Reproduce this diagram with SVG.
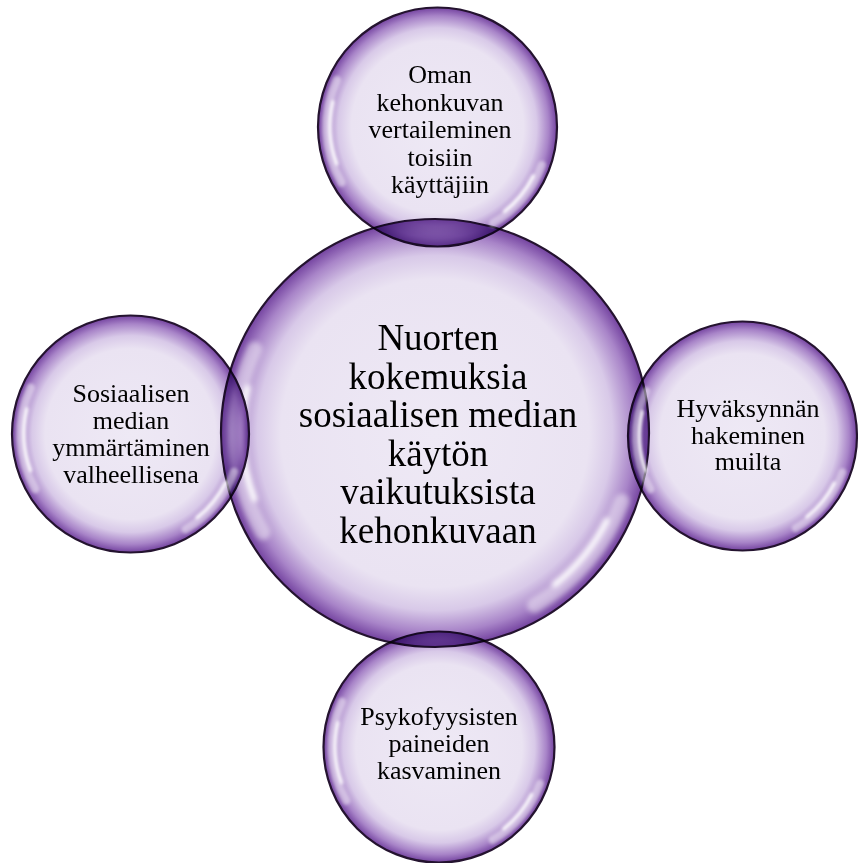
<svg xmlns="http://www.w3.org/2000/svg" xmlns:xlink="http://www.w3.org/1999/xlink" width="858" height="863" viewBox="0 0 858 863">
<style>
.ring{fill:url(#bub);stroke:#24132f;stroke-width:2.2;mix-blend-mode:multiply}
.t{font-family:"Liberation Serif","Times New Roman",serif;fill:#000;text-anchor:middle}
.s{font-size:26px}
.c{font-size:37px}
.gl{fill:none;stroke:#fff;stroke-linecap:round}
.g1{stroke-width:7;opacity:.45}
.g2{stroke-width:3;opacity:.9}
</style>
<defs>
<radialGradient id="bub" cx="50%" cy="50%" r="50%">
<stop offset="0" stop-color="#EEE9F5"/>
<stop offset="0.72" stop-color="#EAE3F2"/>
<stop offset="0.83" stop-color="#D8C9E8"/>
<stop offset="0.93" stop-color="#A884C8"/>
<stop offset="1" stop-color="#7443A0"/>
</radialGradient>
<filter id="soft" x="-20%" y="-20%" width="140%" height="140%"><feGaussianBlur stdDeviation="1.3"/></filter>
<g id="gloss" filter="url(#soft)">
<path class="gl g1" d="M -80.5 46.5 A 93 93 0 0 1 -84.3 -39.3"/>
<path class="gl g2" d="M -84.3 30.7 A 90 90 0 0 1 -87.5 -21"/>
<path class="gl g1" d="M 87.4 31.8 A 93 93 0 0 1 46.5 80.5"/>
<path class="gl g2" d="M 80 41 A 90 90 0 0 1 56 70.5"/>
</g>
</defs>
<rect width="858" height="863" fill="#fff"/>
<g id="connectors"/>
<g id="node-center">
<circle class="ring" cx="435" cy="433" r="214"/>
<use xlink:href="#gloss" transform="translate(435 433) scale(2.14)"/>
<text class="t c"><tspan x="438" y="350">Nuorten</tspan><tspan x="438" y="388.6">kokemuksia</tspan><tspan x="438" y="427.2">sosiaalisen median</tspan><tspan x="438" y="465.8">käytön</tspan><tspan x="438" y="504.4">vaikutuksista</tspan><tspan x="438" y="543">kehonkuvaan</tspan></text>
</g>
<g id="node-top">
<circle class="ring" cx="437.5" cy="127" r="119.5"/>
<use xlink:href="#gloss" transform="translate(437.5 127) scale(1.195)"/>
<text class="t s"><tspan x="440" y="83">Oman</tspan><tspan x="440" y="110.5">kehonkuvan</tspan><tspan x="440" y="138">vertaileminen</tspan><tspan x="440" y="165.5">toisiin</tspan><tspan x="440" y="193">käyttäjiin</tspan></text>
</g>
<g id="node-left">
<circle class="ring" cx="130.5" cy="434" r="118.5"/>
<use xlink:href="#gloss" transform="translate(130.5 434) scale(1.185)"/>
<text class="t s"><tspan x="131" y="402">Sosiaalisen</tspan><tspan x="131" y="429">median</tspan><tspan x="131" y="456">ymmärtäminen</tspan><tspan x="131" y="483">valheellisena</tspan></text>
</g>
<g id="node-right">
<circle class="ring" cx="742.5" cy="436" r="114.5"/>
<use xlink:href="#gloss" transform="translate(742.5 436) scale(1.145)"/>
<text class="t s"><tspan x="748" y="417">Hyväksynnän</tspan><tspan x="748" y="443.5">hakeminen</tspan><tspan x="748" y="470">muilta</tspan></text>
</g>
<g id="node-bottom">
<circle class="ring" cx="439" cy="747" r="115.5"/>
<use xlink:href="#gloss" transform="translate(439 747) scale(1.155)"/>
<text class="t s"><tspan x="439" y="725">Psykofyysisten</tspan><tspan x="439" y="752">paineiden</tspan><tspan x="439" y="779">kasvaminen</tspan></text>
</g>
</svg>
